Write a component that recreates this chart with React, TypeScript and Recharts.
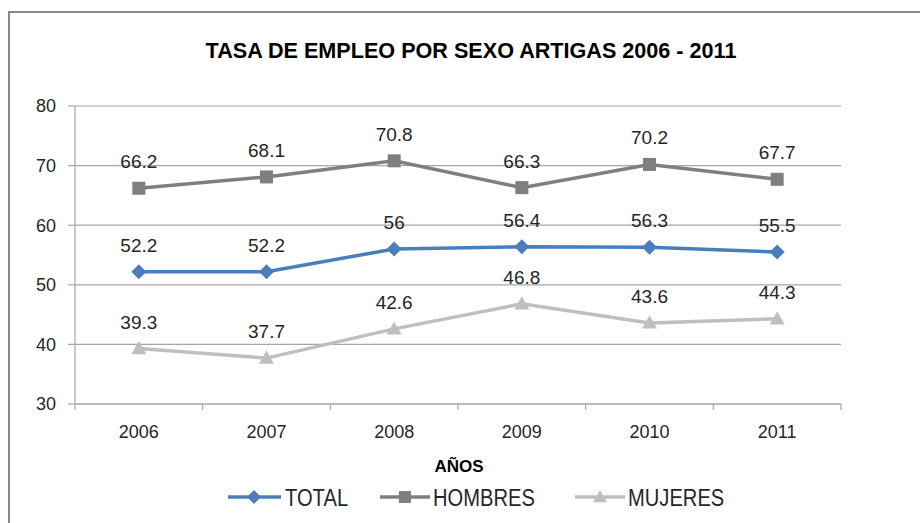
import React from "react";
import { LineChart, Line, XAxis, YAxis, CartesianGrid, LabelList } from "recharts";

const years = ["2006", "2007", "2008", "2009", "2010", "2011"];
const total = [52.2, 52.2, 56, 56.4, 56.3, 55.5];
const hombres = [66.2, 68.1, 70.8, 66.3, 70.2, 67.7];
const mujeres = [39.3, 37.7, 42.6, 46.8, 43.6, 44.3];
const yTicks = [30, 40, 50, 60, 70, 80];
const seriesNames = ["TOTAL", "HOMBRES", "MUJERES"];
const title = "TASA DE EMPLEO POR SEXO ARTIGAS 2006 - 2011";
const xTitle = "AÑOS";

const data = years.map((y, i) => ({
  year: y,
  TOTAL: total[i],
  HOMBRES: hombres[i],
  MUJERES: mujeres[i],
}));

const COLORS = { TOTAL: "#4a7ebb", HOMBRES: "#7f7f7f", MUJERES: "#bfbfbf" };
const FONT = "'Liberation Sans', Arial, sans-serif";
const TEXT = "#262626";
const GRID = "#a6a6a6";
const PLOT_W = 766;

const Diamond = (props: any) => {
  const { cx, cy, color, size = 7.5 } = props;
  if (cx == null || cy == null) return null;
  const r = size;
  return <path d={`M${cx},${cy - r} L${cx + r},${cy} L${cx},${cy + r} L${cx - r},${cy} Z`} fill={color} />;
};
const Square = (props: any) => {
  const { cx, cy, color, size = 6.5 } = props;
  if (cx == null || cy == null) return null;
  const s = size;
  return <rect x={cx - s} y={cy - s} width={2 * s} height={2 * s} fill={color} />;
};
const Triangle = (props: any) => {
  const { cx, cy, color, size = 7.5 } = props;
  if (cx == null || cy == null) return null;
  const s = size;
  return <path d={`M${cx},${cy - s} L${cx + s},${cy + s * 0.75} L${cx - s},${cy + s * 0.75} Z`} fill={color} />;
};

const band = PLOT_W / years.length;

const XTick = (props: any) => {
  const { x, y, payload, index } = props;
  const last = index === years.length - 1;
  return (
    <g>
      <line x1={x - band / 2} y1={y} x2={x - band / 2} y2={y + 6} stroke={GRID} strokeWidth={1.2} />
      {last && <line x1={x + band / 2} y1={y} x2={x + band / 2} y2={y + 6} stroke={GRID} strokeWidth={1.2} />}
      <text x={x} y={y + 34} textAnchor="middle" fontSize={18} fontFamily={FONT} fill={TEXT}>
        {payload.value}
      </text>
    </g>
  );
};

const LegendText = ({ x, y, children }: any) => (
  <text transform={`translate(${x},${y}) scale(0.84,1)`} fontSize={24} fontFamily={FONT} fill={TEXT}>
    {children}
  </text>
);

export default function App() {
  return (
    <div style={{ position: "absolute", left: 0, top: 0, width: 920, height: 523, background: "#fff" }}>
      <div
        style={{
          position: "absolute",
          left: 8,
          top: 11,
          width: 930,
          height: 540,
          border: "2px solid #888888",
          boxSizing: "border-box",
        }}
      />
      <div style={{ position: "absolute", left: 0, top: 0 }}>
        <LineChart width={920} height={523} data={data} margin={{ top: 106, right: 79, bottom: 89, left: 15 }}>
          <CartesianGrid vertical={false} stroke={GRID} strokeWidth={1.2} />
          <XAxis
            dataKey="year"
            height={30}
            padding={{ left: band / 2, right: band / 2 }}
            axisLine={{ stroke: GRID, strokeWidth: 1.2 }}
            tickLine={false}
            tickSize={0}
            tickMargin={0}
            tick={<XTick />}
            interval={0}
          />
          <YAxis
            width={60}
            domain={[30, 80]}
            ticks={yTicks}
            axisLine={{ stroke: GRID, strokeWidth: 1.2 }}
            tickLine={{ stroke: GRID, strokeWidth: 1.2 }}
            tickSize={7}
            tickMargin={12}
            tick={{ fontSize: 18, fontFamily: FONT, fill: TEXT }}
          />
          <Line
            dataKey="HOMBRES"
            stroke={COLORS.HOMBRES}
            strokeWidth={3.5}
            dot={<Square color={COLORS.HOMBRES} />}
            activeDot={false}
            isAnimationActive={false}
          >
            <LabelList dataKey="HOMBRES" position="top" offset={20} fontSize={19} fontFamily={FONT} fill={TEXT} />
          </Line>
          <Line
            dataKey="TOTAL"
            stroke={COLORS.TOTAL}
            strokeWidth={3.5}
            dot={<Diamond color={COLORS.TOTAL} />}
            activeDot={false}
            isAnimationActive={false}
          >
            <LabelList dataKey="TOTAL" position="top" offset={20} fontSize={19} fontFamily={FONT} fill={TEXT} />
          </Line>
          <Line
            dataKey="MUJERES"
            stroke={COLORS.MUJERES}
            strokeWidth={3.5}
            dot={<Triangle color={COLORS.MUJERES} />}
            activeDot={false}
            isAnimationActive={false}
          >
            <LabelList dataKey="MUJERES" position="top" offset={20} fontSize={19} fontFamily={FONT} fill={TEXT} />
          </Line>
        </LineChart>
      </div>
      <svg width={920} height={523} style={{ position: "absolute", left: 0, top: 0, pointerEvents: "none" }}>
        <text x={471} y={58} textAnchor="middle" fontSize={21.6} fontWeight="bold" fontFamily={FONT} fill="#000">
          {title}
        </text>
        <text x={459} y={472} textAnchor="middle" fontSize={17} fontWeight="bold" fontFamily={FONT} fill="#000">
          {xTitle}
        </text>
        <g>
          <line x1={228} y1={497} x2={281} y2={497} stroke={COLORS.TOTAL} strokeWidth={3.5} />
          <Diamond cx={254} cy={497} color={COLORS.TOTAL} size={7} />
          <LegendText x={285} y={506}>{seriesNames[0]}</LegendText>
          <line x1={380} y1={497} x2={430} y2={497} stroke={COLORS.HOMBRES} strokeWidth={3.5} />
          <Square cx={405} cy={497} color={COLORS.HOMBRES} size={6} />
          <LegendText x={433} y={506}>{seriesNames[1]}</LegendText>
          <line x1={575} y1={497} x2={625} y2={497} stroke={COLORS.MUJERES} strokeWidth={3.5} />
          <Triangle cx={600} cy={497} color={COLORS.MUJERES} size={7} />
          <LegendText x={628} y={506}>{seriesNames[2]}</LegendText>
        </g>
      </svg>
    </div>
  );
}
